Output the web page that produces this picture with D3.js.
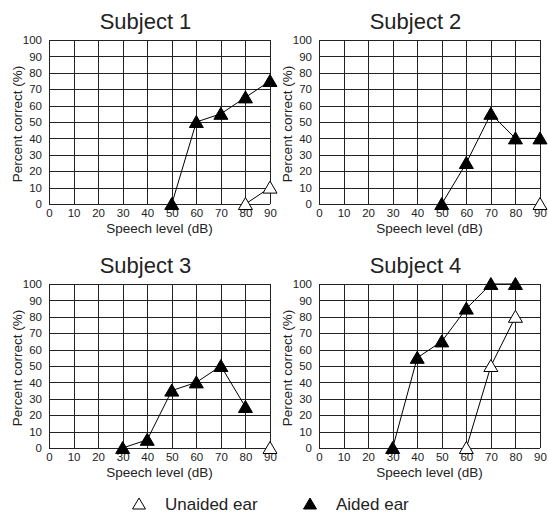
<!DOCTYPE html>
<meta charset="utf-8">
<style>
body { margin: 0; background: #fff; }
text { font-family: "Liberation Sans", Arial, sans-serif; fill: #222; }
.grid line { stroke: #222; stroke-width: 1; shape-rendering: crispEdges; }
.tick text { font-size: 11.5px; }
</style>
<body>
<script src="https://cdn.jsdelivr.net/npm/d3@7"></script>
<script>

// x ticks (speech level) and y ticks (percent correct)
var levels = [0, 10, 20, 30, 40, 50, 60, 70, 80, 90];
var percents = [0, 10, 20, 30, 40, 50, 60, 70, 80, 90, 100];

var subjects = ["Subject 1", "Subject 2", "Subject 3", "Subject 4"];

// [level, percent] pairs per subject
var aided = [
  [[50, 0], [60, 50], [70, 55], [80, 65], [90, 75]],
  [[50, 0], [60, 25], [70, 55], [80, 40], [90, 40]],
  [[30, 0], [40, 5], [50, 35], [60, 40], [70, 50], [80, 25]],
  [[30, 0], [40, 55], [50, 65], [60, 85], [70, 100], [80, 100]]
];
var unaided = [
  [[80, 0], [90, 10]],
  [[90, 0]],
  [[90, 0]],
  [[60, 0], [70, 50], [80, 80]]
];

var legendLabels = ["Unaided ear", "Aided ear"];

var W = 548, H = 515;
var pw = 221, ph = 164;
var origins = [[49, 40], [319, 40], [49, 284], [319, 284]];

var svg = d3.select("body").append("svg")
    .attr("width", W)
    .attr("height", H);

var tri = "M0,-6.5L7,5.5L-7,5.5Z";

var x = d3.scaleLinear().domain([0, 90]).range([0, pw]);
var y = d3.scaleLinear().domain([0, 100]).range([ph, 0]);

var line = d3.line()
    .x(function(d) { return x(d[0]); })
    .y(function(d) { return y(d[1]); });

subjects.forEach(function(name, i) {
  var g = svg.append("g")
      .attr("transform", "translate(" + origins[i][0] + "," + origins[i][1] + ")");

  g.append("text")
      .attr("x", pw / 2 - 14)
      .attr("y", -11)
      .attr("text-anchor", "middle")
      .style("font-size", "22px")
      .text(name);

  var grid = g.append("g").attr("class", "grid");
  grid.selectAll(".v").data(levels.concat([90])).enter().append("line")
      .attr("x1", function(d) { return Math.round(x(d)) + 0.5; })
      .attr("x2", function(d) { return Math.round(x(d)) + 0.5; })
      .attr("y1", 0).attr("y2", ph);
  grid.selectAll(".h").data(percents).enter().append("line")
      .attr("y1", function(d) { return Math.round(y(d)) + 0.5; })
      .attr("y2", function(d) { return Math.round(y(d)) + 0.5; })
      .attr("x1", 0).attr("x2", pw);

  var xAxis = d3.axisBottom(x).tickValues(levels).tickSize(0).tickPadding(5);
  var yAxis = d3.axisLeft(y).tickValues(percents).tickSize(0).tickPadding(7);

  g.append("g")
      .attr("transform", "translate(0," + ph + ")")
      .call(xAxis)
      .call(function(s) { s.select(".domain").remove(); });

  g.append("g")
      .call(yAxis)
      .call(function(s) { s.select(".domain").remove(); });

  g.append("text")
      .attr("x", pw / 2)
      .attr("y", ph + 29)
      .attr("text-anchor", "middle")
      .style("font-size", "13.5px")
      .text("Speech level (dB)");

  g.append("text")
      .attr("transform", "translate(-27," + (ph / 2 + 2) + ") rotate(-90)")
      .attr("text-anchor", "middle")
      .style("font-size", "13.5px")
      .text("Percent correct (%)");

  [[unaided[i], "#fff"], [aided[i], "#000"]].forEach(function(s) {
    g.append("path")
        .datum(s[0])
        .attr("fill", "none")
        .attr("stroke", "#000")
        .attr("stroke-width", 1)
        .attr("d", line);
    g.selectAll(null).data(s[0]).enter().append("path")
        .attr("d", tri)
        .attr("transform", function(d) { return "translate(" + x(d[0]) + "," + y(d[1]) + ")"; })
        .attr("fill", s[1])
        .attr("stroke", "#000")
        .attr("stroke-width", 1);
  });
});

// legend
var legendX = [139, 310];
var legendFill = ["#fff", "#000"];
legendLabels.forEach(function(lbl, i) {
  var lg = svg.append("g").attr("transform", "translate(" + legendX[i] + ",504)");
  lg.append("path")
      .attr("d", "M0,-6L6.5,5L-6.5,5Z")
      .attr("fill", legendFill[i])
      .attr("stroke", "#000")
      .attr("stroke-width", 1);
  lg.append("text")
      .attr("x", 26)
      .attr("y", 6)
      .style("font-size", "17px")
      .text(lbl);
});

</script>
